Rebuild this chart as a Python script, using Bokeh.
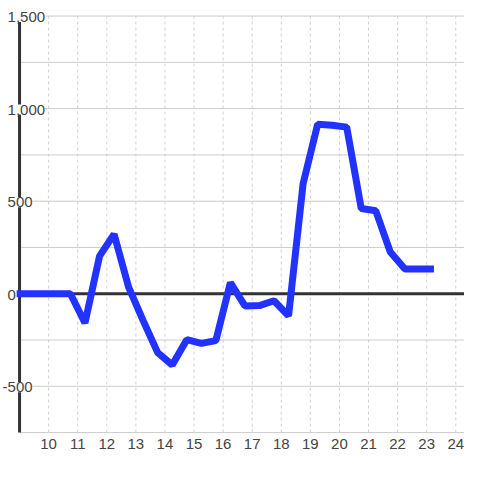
from bokeh.plotting import figure
from bokeh.models import Range1d, FixedTicker, LabelSet, ColumnDataSource
from bokeh.core.properties import value
from bokeh.embed import file_html
from bokeh.resources import INLINE

# ---- data ----
hours = [8.9, 9.25, 9.75, 10.25, 10.75, 11.25, 11.75, 12.25, 12.75, 13.25,
         13.75, 14.25, 14.75, 15.25, 15.75, 16.25, 16.75, 17.25, 17.75, 18.25,
         18.75, 19.25, 19.75, 20.25, 20.75, 21.25, 21.75, 22.25, 22.75, 23.25]
values = [0, 0, 0, 0, 0, -158, 203, 322, 36, -145,
          -318, -385, -248, -268, -253, 60, -66, -64, -38, -120,
          594, 915, 910, 900, 460, 448, 225, 134, 134, 134]

x_ticks = list(range(10, 25))
y_grid = [-750, -500, -250, 0, 250, 500, 750, 1000, 1250, 1500]
y_label_vals = [-500, 0, 500, 1000, 1500]
y_label_text = ["-500", "0", "500", "1,000", "1,500"]

X_START, X_END = 9.0, 24.3        # axis position and right end of the plot
Y_MIN, Y_MAX = -750, 1500          # extent of the grid

FONT = "Liberation Sans"
TEXT_COLOR = "#444444"

p = figure(width=464, height=464,
           x_range=Range1d(8.345, X_END), y_range=Range1d(-755, 1584),
           output_backend="svg", toolbar_location=None,
           y_axis_location=None,
           min_border_left=0, min_border_right=0,
           min_border_top=0, min_border_bottom=31)
p.outline_line_color = None
p.background_fill_color = "white"
p.border_fill_color = "white"
p.grid.visible = False

# vertical dotted grid lines
p.segment(x0=x_ticks, x1=x_ticks, y0=[Y_MIN] * len(x_ticks), y1=[Y_MAX] * len(x_ticks),
          line_color="#d0d0d0", line_width=1, line_dash="3 3")
# horizontal grid lines
p.segment(x0=[X_START] * len(y_grid), x1=[X_END] * len(y_grid), y0=y_grid, y1=y_grid,
          line_color="#cccccc", line_width=1)

# x axis (labels only)
xa = p.xaxis[0]
xa.ticker = FixedTicker(ticks=x_ticks)
xa.axis_line_color = None
xa.major_tick_line_color = None
xa.minor_tick_line_color = None
xa.major_tick_in = 0
xa.major_tick_out = 0
xa.major_label_standoff = 5
xa.major_label_text_font = FONT
xa.major_label_text_font_size = "15px"
xa.major_label_text_color = TEXT_COLOR

# zero line and y axis line
p.segment(x0=[X_START], x1=[X_END], y0=[0], y1=[0], line_color="#333333", line_width=3)
p.segment(x0=[X_START], x1=[X_START], y0=[Y_MIN], y1=[Y_MAX], line_color="#333333", line_width=3)

# series
p.line(hours, values, line_color="#2233ff", line_width=7)

# y labels with white background over the axis line
pos_v = [v for v in y_label_vals if v >= 0]
pos_t = [t for v, t in zip(y_label_vals, y_label_text) if v >= 0]
neg_v = [v for v in y_label_vals if v < 0]
neg_t = [t for v, t in zip(y_label_vals, y_label_text) if v < 0]

for vals, txts, off in ((pos_v, pos_t, -12), (neg_v, neg_t, -17)):
    src = ColumnDataSource(dict(x=[X_START] * len(vals), y=vals, t=txts))
    p.add_layout(LabelSet(x="x", y="y", text="t", source=src,
                          x_offset=off, y_offset=-1,
                          text_align="left", text_baseline="middle",
                          text_font=value(FONT), text_font_size=value("15px"),
                          text_color=TEXT_COLOR,
                          background_fill_color="white"))

open("out.html", "w").write(file_html(p, INLINE))
